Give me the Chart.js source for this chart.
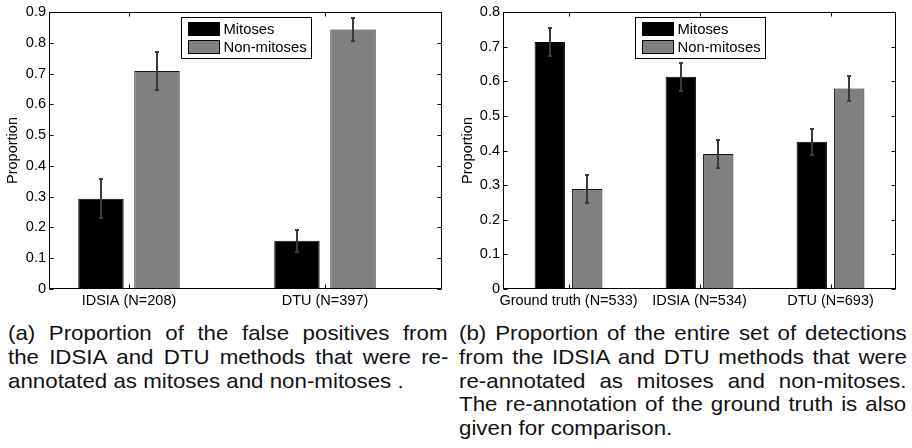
<!DOCTYPE html>
<html>
<head>
<meta charset="utf-8">
<script src="https://cdn.jsdelivr.net/npm/chart.js@4.4.1/dist/chart.umd.min.js"></script>
<style>
  body { margin: 0; background: #fff; width: 912px; height: 448px; position: relative; overflow: hidden;
         font-family: "Liberation Sans", Arial, Helvetica, sans-serif; }
  #chartA { position: absolute; left: 0; top: 0; }
  #chartB { position: absolute; left: 455px; top: 0; }
  .cap { position: absolute; top: 321.7px; font-size: 20.3px; line-height: 23.9px; color: #111;
         transform: scaleX(1.1); transform-origin: 0 0; }
  .cap div { white-space: nowrap; }
</style>
</head>
<body>
<canvas id="chartA" width="455" height="315"></canvas>
<canvas id="chartB" width="457" height="315"></canvas>

<!-- widths are pre-stretch: 440/1.1 and 448/1.1 -->
<div class="cap" style="left:8px; width:400px;">
  <div class="just">(a) Proportion of the false positives from</div>
  <div class="just">the IDSIA and DTU methods that were re-</div>
  <div>annotated as mitoses and non-mitoses .</div>
</div>
<div class="cap" style="left:459px; width:407px;">
  <div class="just">(b) Proportion of the entire set of detections</div>
  <div class="just">from the IDSIA and DTU methods that were</div>
  <div class="just">re-annotated as mitoses and non-mitoses.</div>
  <div class="just">The re-annotation of the ground truth is also</div>
  <div>given for comparison.</div>
</div>

<script>
// (a) false positives
const categoriesA = ['IDSIA (N=208)', 'DTU (N=397)'];
const mitosesA = [0.293, 0.157];
const nonMitosesA = [0.708, 0.843];
const mitosesErrA = [0.063, 0.036];
const nonMitosesErrA = [0.062, 0.036];
const yTicksA = [0, 0.1, 0.2, 0.3, 0.4, 0.5, 0.6, 0.7, 0.8, 0.9];
const yLabelsA = ['0', '0.1', '0.2', '0.3', '0.4', '0.5', '0.6', '0.7', '0.8', '0.9'];

// (b) entire set of detections
const categoriesB = ['Ground truth (N=533)', 'IDSIA (N=534)', 'DTU (N=693)'];
const mitosesB = [0.713, 0.613, 0.425];
const nonMitosesB = [0.289, 0.390, 0.579];
const mitosesErrB = [0.040, 0.041, 0.038];
const nonMitosesErrB = [0.040, 0.041, 0.037];
const yTicksB = [0, 0.1, 0.2, 0.3, 0.4, 0.5, 0.6, 0.7, 0.8];
const yLabelsB = ['0', '0.1', '0.2', '0.3', '0.4', '0.5', '0.6', '0.7', '0.8'];

const seriesNames = ['Mitoses', 'Non-mitoses'];

const FONT = { family: '"Liberation Sans", Arial, Helvetica, sans-serif', size: 14.5 };

// justify the caption lines by hand (keeps the original line breaks)
document.querySelectorAll('.cap div.just').forEach(d => {
  const target = d.parentNode.clientWidth;
  d.style.display = 'inline-block';
  const natural = d.offsetWidth;
  const gaps = (d.textContent.match(/ /g) || []).length;
  d.style.display = 'block';
  if (gaps) d.style.wordSpacing = ((target - natural) / gaps) + 'px';
});

// error bars, drawn on top of the bars
const errorBars = {
  id: 'errorBars',
  afterDatasetsDraw(chart) {
    const ctx = chart.ctx, y = chart.scales.y;
    ctx.save();
    ctx.strokeStyle = '#3a3a3a';
    ctx.lineWidth = 2;
    chart.data.datasets.forEach((ds, i) => {
      chart.getDatasetMeta(i).data.forEach((bar, j) => {
        const v = ds.data[j].y, e = ds.errors[j];
        const t = Math.round(y.getPixelForValue(v + e)), b = Math.round(y.getPixelForValue(v - e));
        const x = Math.round(bar.x);
        ctx.beginPath();
        ctx.moveTo(x, t); ctx.lineTo(x, b);
        ctx.moveTo(x - 2, t); ctx.lineTo(x + 2, t);
        ctx.moveTo(x - 2, b); ctx.lineTo(x + 2, b);
        ctx.stroke();
      });
    });
    ctx.restore();
  }
};

// matlab style box, inward ticks and legend
const axesBox = {
  id: 'axesBox',
  afterDraw(chart) {
    const ctx = chart.ctx, a = chart.chartArea;
    const L = Math.round(a.left) + 0.5, R = Math.round(a.right) - 0.5;
    const T = Math.round(a.top) + 0.5, B = Math.round(a.bottom) - 0.5;
    ctx.save();
    ctx.strokeStyle = '#000';
    ctx.lineWidth = 1;
    ctx.strokeRect(L, T, R - L, B - T);
    ctx.beginPath();
    chart.scales.y.ticks.forEach(tk => {
      const py = Math.round(chart.scales.y.getPixelForValue(tk.value)) + 0.5;
      ctx.moveTo(L, py); ctx.lineTo(L + 4, py);
      ctx.moveTo(R, py); ctx.lineTo(R - 4, py);
    });
    chart.scales.x.ticks.forEach(tk => {
      const px = Math.round(chart.scales.x.getPixelForValue(tk.value)) + 0.5;
      ctx.moveTo(px, T); ctx.lineTo(px, T + 4);
      ctx.moveTo(px, B); ctx.lineTo(px, B - 4);
    });
    ctx.stroke();

    // legend
    const w = 130, h = 41;
    const bx = Math.round((a.left + a.right) / 2 - w / 2) + 0.5, by = Math.round(a.top) + 5.5;
    ctx.fillStyle = '#fff';
    ctx.fillRect(bx, by, w, h);
    ctx.strokeRect(bx, by, w, h);
    ctx.font = '14.8px ' + FONT.family;
    ctx.textBaseline = 'middle';
    chart.data.datasets.forEach((ds, i) => {
      const sy = by + 5 + i * 18;
      ctx.fillStyle = ds.backgroundColor;
      ctx.fillRect(bx + 7, sy, 31, 13);
      ctx.strokeStyle = '#000';
      ctx.strokeRect(bx + 7, sy, 31, 13);
      ctx.fillStyle = '#000';
      ctx.fillText(ds.label, bx + 42, sy + 7);
    });
    ctx.restore();
  }
};

function makeChart(id, cats, mit, non, mitErr, nonErr, yTicks, yLabels, xMin, xMax, yMax, yWidth, padRight) {
  const toPts = arr => arr.map((v, i) => ({ x: i + 1, y: v }));
  return new Chart(document.getElementById(id), {
    type: 'bar',
    data: {
      datasets: [
        { label: seriesNames[0], data: toPts(mit), errors: mitErr,
          backgroundColor: '#000000', borderColor: '#000000', borderWidth: 1 },
        { label: seriesNames[1], data: toPts(non), errors: nonErr,
          backgroundColor: '#808080', borderColor: '#111111', borderWidth: 1 }
      ]
    },
    options: {
      responsive: false,
      animation: false,
      categoryPercentage: 0.572,
      barPercentage: 0.81,
      layout: { padding: { top: 12, right: padRight, left: 0, bottom: 0 } },
      plugins: { legend: { display: false }, tooltip: { enabled: false } },
      scales: {
        x: {
          type: 'linear', min: xMin, max: xMax, offset: false,
          grid: { display: false, drawTicks: false, offset: false },
          border: { display: false },
          afterBuildTicks: s => { s.ticks = cats.map((c, i) => ({ value: i + 1 })); },
          afterFit: s => { s.height = 26; },
          ticks: { color: '#000', font: FONT, padding: 3, maxRotation: 0, autoSkip: false,
                   callback: (v, i) => cats[i] }
        },
        y: {
          min: 0, max: yMax,
          grid: { display: false, drawTicks: false },
          border: { display: false },
          afterBuildTicks: s => { s.ticks = yTicks.map(v => ({ value: v })); },
          afterFit: s => { s.width = yWidth; },
          ticks: { color: '#000', font: FONT, padding: 3, callback: (v, i) => yLabels[i] },
          title: { display: true, text: 'Proportion', color: '#000', font: FONT, padding: { top: 4, bottom: 0 } }
        }
      }
    },
    plugins: [errorBars, axesBox]
  });
}

makeChart('chartA', categoriesA, mitosesA, nonMitosesA, mitosesErrA, nonMitosesErrA,
          yTicksA, yLabelsA, 0.592, 2.597, 0.9, 49, 13);
makeChart('chartB', categoriesB, mitosesB, nonMitosesB, mitosesErrB, nonMitosesErrB,
          yTicksB, yLabelsB, 0.5, 3.5, 0.8, 48, 16);
</script>
</body>
</html>
